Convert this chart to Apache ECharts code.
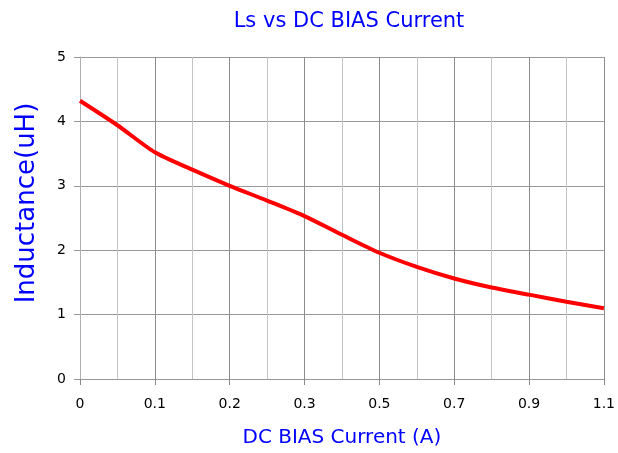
<!DOCTYPE html>
<html>
<head>
<meta charset="utf-8">
<script src="https://cdn.jsdelivr.net/npm/echarts@6/dist/echarts.min.js"></script>
<style>
  html, body { margin: 0; padding: 0; background: #fff; }
  #chart { width: 618px; height: 453px; }
</style>
</head>
<body>
<div id="chart"></div>
<script>
// DC bias current steps (Excel-style category axis, uneven spacing)
const currents = ['0', '0.05', '0.1', '0.15', '0.2', '0.25', '0.3', '0.4', '0.5', '0.6', '0.7', '0.8', '0.9', '1', '1.1'];
const labelText = ['0', '', '0.1', '', '0.2', '', '0.3', '', '0.5', '', '0.7', '', '0.9', '', '1.1'];
// inductance in uH
const inductance = [4.32, 3.94, 3.52, 3.25, 3.00, 2.77, 2.53, 2.24, 1.96, 1.74, 1.56, 1.42, 1.31, 1.20, 1.10];

const FONT = 'DejaVu Sans';
const BLUE = '#0000ff';

const chart = echarts.init(document.getElementById('chart'));

chart.setOption({
  animation: false,
  title: {
    text: 'Ls vs DC BIAS Current',
    left: 344,
    textAlign: 'center',
    top: 6,
    textStyle: { color: BLUE, fontFamily: FONT, fontSize: 21, fontWeight: 'normal' }
  },
  grid: { left: 80, right: 12, top: 57, bottom: 71, containLabel: false },
  xAxis: {
    type: 'category',
    data: currents,
    boundaryGap: false,
    name: 'DC BIAS Current (A)',
    nameLocation: 'middle',
    nameGap: 49,
    nameTextStyle: { color: BLUE, fontFamily: FONT, fontSize: 20 },
    axisLine: { lineStyle: { color: '#999', width: 1 } },
    axisTick: { show: true, interval: 1, length: 6, lineStyle: { color: '#888' } },
    axisLabel: {
      interval: 0,
      margin: 18,
      color: '#000',
      fontFamily: FONT,
      fontSize: 14,
      formatter: (v, i) => labelText[i]
    },
    splitLine: {
      show: true,
      interval: 0,
      lineStyle: { color: ['#8c8c8c', '#c4c4c4'], width: 1 }
    }
  },
  yAxis: {
    type: 'value',
    min: 0,
    max: 5,
    interval: 1,
    name: 'Inductance(uH)',
    nameLocation: 'middle',
    nameGap: 40,
    nameTextStyle: { color: BLUE, fontFamily: FONT, fontSize: 26, padding: [0, 0, 0, 30] },
    axisLine: { show: true, lineStyle: { color: '#b0b0b0' } },
    axisTick: { show: true, length: 6, lineStyle: { color: '#999' } },
    axisLabel: { margin: 14, color: '#000', fontFamily: FONT, fontSize: 14 },
    splitLine: { show: true, lineStyle: { color: '#999', width: 1 } }
  },
  series: [{
    name: 'Ls',
    type: 'line',
    data: inductance,
    smooth: 0.25,
    showSymbol: false,
    lineStyle: { color: '#ff0000', width: 4 }
  }]
});
</script>
</body>
</html>
